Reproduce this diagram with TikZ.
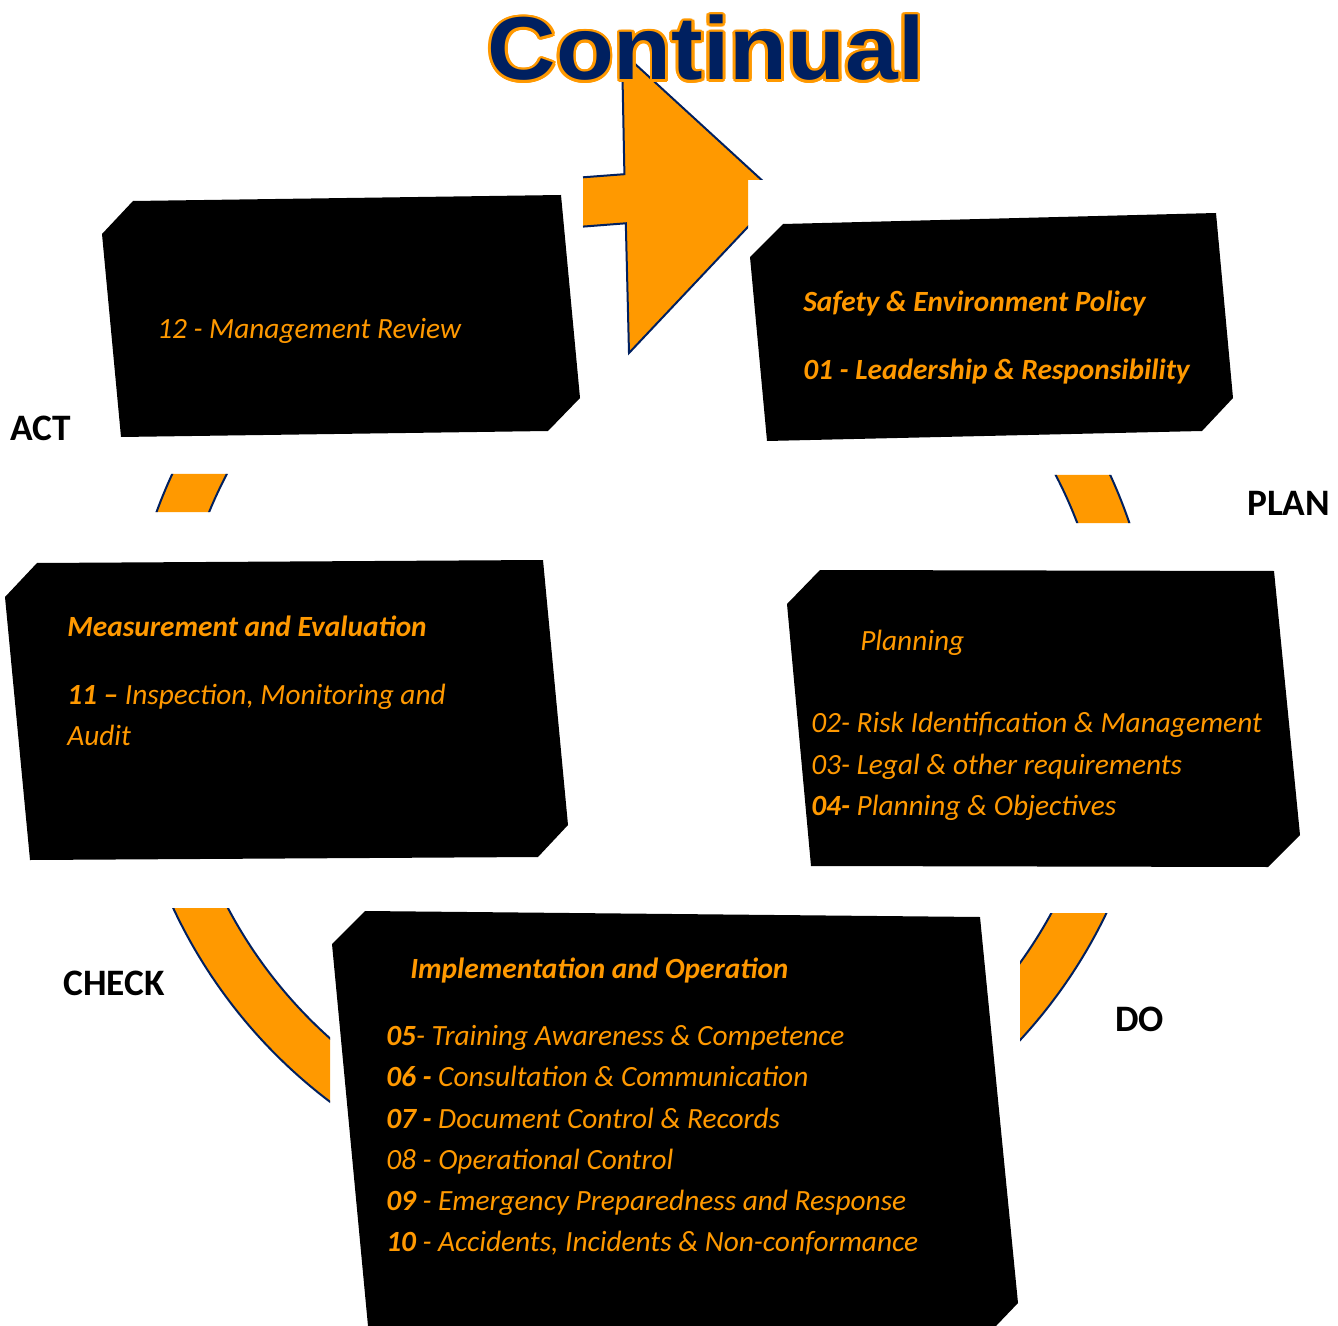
\documentclass[tikz,border=0pt]{standalone}
\usepackage{fontspec}
\setmainfont{Carlito}
\newfontfamily\titlefont{Liberation Sans}
\usepackage{contour}
\contourlength{2pt}
\usepackage{tikz}

\definecolor{hsorange}{RGB}{255,153,0}
\definecolor{hsnavy}{RGB}{0,32,96}

\tikzset{
  boxtext/.style={anchor=base west, inner sep=0pt, text=hsorange, font=\fontsize{22}{26}\selectfont\itshape},
  phase/.style={anchor=base west, inner sep=0pt, text=black, font=\fontsize{28}{28}\selectfont\bfseries},
  blackbox/.style={fill=black},
  bandline/.style={draw=hsnavy, line width=1.5pt},
}

\begin{document}
\begin{tikzpicture}[x=0.75pt,y=0.75pt,yscale=-1,xscale=1]
%set diagram left start at 0, and has height of 1326
\fill[white] (0,0) rectangle (1338,1326);
\useasboundingbox (0,0) rectangle (1338,1326);

%Shape: Ring, only the parts between the boxes
\begin{scope}
\clip (100,474) rectangle (300,512) (1000,475) rectangle (1200,523) (100,908) rectangle (330,1110) (1020,913) rectangle (1200,1060);
\fill[hsorange, even odd rule] (641,690) circle[radius=387pt] (641,690) circle[radius=350.25pt];
\draw[bandline] (641,690) circle[radius=387pt];
\draw[bandline] (641,690) circle[radius=350.25pt];
\end{scope}

%Shape: Arrow head at the top
\begin{scope}
\clip (0,0) -- (1338,0) -- (1338,180) -- (748,180) -- (748,1326) -- (0,1326) -- cycle;
\fill[hsorange] (583,177.3) -- (624.4,174.2) -- (622,52) -- (778,195) -- (629,353) -- (625.8,223.3) -- (583,226.6) -- cycle;
\draw[bandline, line join=miter] (583,177.3) -- (624.4,174.2) -- (622,52) -- (778,195) -- (629,353) -- (625.8,223.3) -- (583,226.6);
\end{scope}

%Shape: Polygon [act box]
\fill[blackbox] (133,201) -- (561,195) -- (580,398) -- (548,431) -- (121,437) -- (102,234) -- cycle;
%Shape: Polygon [plan box]
\fill[blackbox] (783,224) -- (1216,213) -- (1233,398) -- (1202,431) -- (767,441) -- (750,257) -- cycle;
%Shape: Polygon [check box]
\fill[blackbox] (37,563) -- (543,560) -- (568,825) -- (538,857) -- (30,860) -- (5,597) -- cycle;
%Shape: Polygon [planning box]
\fill[blackbox] (820,570) -- (1274,571) -- (1300,835) -- (1268,867) -- (811,866) -- (787,604) -- cycle;
%Shape: Polygon [do box]
\fill[blackbox] (365,911) -- (980,917) -- (1018,1303) -- (996,1326) -- (368,1326) -- (332,944) -- cycle;

% Text Node
\draw (706,80) node (title) [anchor=base, inner sep=0pt, xscale=1.06] {\titlefont\bfseries\fontsize{67}{67}\selectfont\color{hsnavy}\contour{hsorange}{Continual}};

% Text Node
\draw (10,441) node (actlabel) [phase] {ACT};
\draw (1247,515) node (planlabel) [phase] {PLAN};
\draw (63,995) node (checklabel) [phase] {CHECK};
\draw (1115,1031) node (dolabel) [phase] {DO};

% Text Node
\draw (157,339) node (review) [boxtext] {12 - Management Review};

% Text Node
\draw (803,312) node (policy) [boxtext] {\bfseries Safety \& Environment Policy};
\draw (803,380) node (leader) [boxtext] {\bfseries 01 - Leadership \& Responsibility};

% Text Node
\draw (67,636) node (measure) [boxtext] {\bfseries Measurement and Evaluation};
\draw (67,704) node (inspect) [boxtext] {\textbf{11 --} Inspection, Monitoring and};
\draw (67,745) node (audit) [boxtext] {Audit};

% Text Node
\draw (860,650) node (planning) [boxtext] {Planning};
\draw (811,732) node (risk) [boxtext] {02- Risk Identification \& Management};
\draw (811,774) node (legal) [boxtext] {03- Legal \& other requirements};
\draw (811,815) node (objectives) [boxtext] {\textbf{04-} Planning \& Objectives};

% Text Node
\draw (410,978) node (implement) [boxtext] {\bfseries Implementation and Operation};
\draw (386,1045) node (training) [boxtext] {\textbf{05}- Training Awareness \& Competence};
\draw (386,1086) node (consult) [boxtext] {\textbf{06 -} Consultation \& Communication};
\draw (386,1128) node (document) [boxtext] {\textbf{07 -} Document Control \& Records};
\draw (386,1169) node (operational) [boxtext] {08 - Operational Control};
\draw (386,1210) node (emergency) [boxtext] {\textbf{09} - Emergency Preparedness and Response};
\draw (386,1251) node (accidents) [boxtext] {\textbf{10} - Accidents, Incidents \& Non-conformance};

\end{tikzpicture}
\end{document}
